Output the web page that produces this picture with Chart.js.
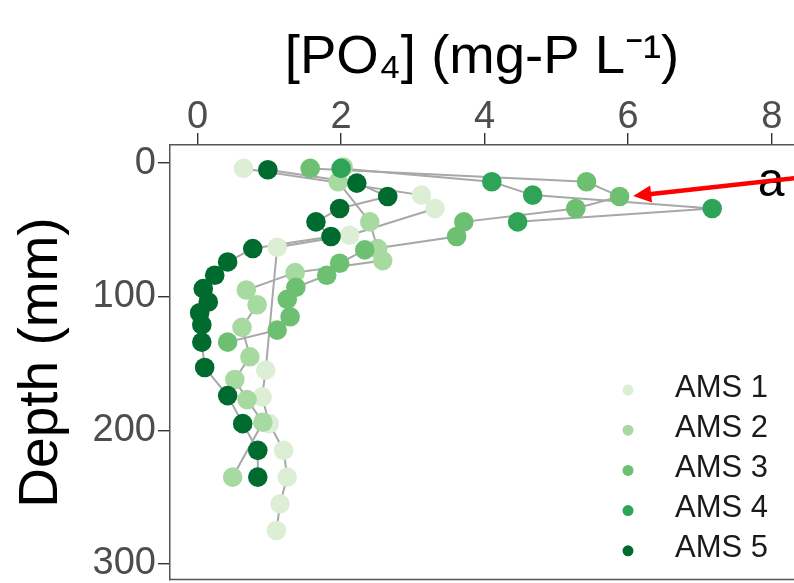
<!DOCTYPE html>
<html><head><meta charset="utf-8">
<script src="https://cdn.jsdelivr.net/npm/chart.js@4.4.0/dist/chart.umd.min.js"></script>
<style>html,body{margin:0;padding:0;background:#fff;} canvas{display:block;}</style>
</head><body>
<canvas id="c" width="794" height="583"></canvas>
<script>
// ---- data ----
const seriesNames = ['AMS 1', 'AMS 2', 'AMS 3', 'AMS 4', 'AMS 5'];

const ams1Depth = [4, 24, 34, 54, 63, 155, 175, 195, 215, 235, 255, 275];
const ams1PO4   = [0.64, 3.12, 3.31, 2.12, 1.11, 0.95, 0.9, 1.0, 1.2, 1.25, 1.15, 1.1];

const ams2Depth = [3, 14, 44, 64, 73, 82, 95, 106, 123, 145, 162, 177, 194, 235];
const ams2PO4   = [2.03, 1.96, 2.40, 2.51, 2.58, 1.36, 0.68, 0.83, 0.62, 0.73, 0.52, 0.69, 0.91, 0.49];

const ams3Depth = [4, 14, 25, 34, 44, 55, 65, 75, 84, 93, 102, 115, 125, 134];
const ams3PO4   = [1.57, 5.42, 5.88, 5.27, 3.71, 3.61, 2.33, 1.98, 1.80, 1.37, 1.25, 1.29, 1.11, 0.42];

const ams4Depth = [4, 14, 24, 34, 44];
const ams4PO4   = [2.0, 4.10, 4.67, 7.17, 4.46];

const ams5Depth = [5, 15, 25, 34, 44, 55, 64, 74, 84, 94, 104, 112, 121, 134, 153, 174, 195, 215, 235];
const ams5PO4   = [0.98, 2.22, 2.65, 1.98, 1.65, 1.86, 0.77, 0.42, 0.24, 0.08, 0.15, 0.03, 0.06, 0.06, 0.10, 0.42, 0.63, 0.84, 0.84];

const xTicks = [0, 2, 4, 6, 8];
const yTicks = [0, 100, 200, 300];
const xTitle = '[PO\u2084] (mg-P L\u207B\u00B9)';
const yTitle = 'Depth (mm)';
const panelLabel = 'a';
const panelLabelPos = [7.99, 25];      // data coords (PO4, depth) of label baseline
const arrowFrom = [8.45, 10.5];        // arrow tail (data coords)
const arrowTo = [6.07, 24.7];          // arrow tip (data coords)

// ---- styling ----
const FONT = '"Liberation Sans", Arial, Helvetica, sans-serif';
const colors = ['#dcefd5', '#a6daa0', '#6dc072', '#2fa356', '#006b2e'];
const lineColor = '#a8a8a8';
const frameColor = '#555555';

const depths = [ams1Depth, ams2Depth, ams3Depth, ams4Depth, ams5Depth];
const values = [ams1PO4, ams2PO4, ams3PO4, ams4PO4, ams5PO4];

function pts(i) { return depths[i].map((d, k) => ({x: values[i][k], y: d})); }

const datasets = [];
for (let i = 0; i < 5; i++) {
  datasets.push({
    label: seriesNames[i] + ' path', data: pts(i), showLine: true, fill: false,
    borderColor: lineColor, borderWidth: 2, pointRadius: 0, pointHoverRadius: 0,
    order: 20 + i
  });
}
for (let i = 0; i < 5; i++) {
  datasets.push({
    label: seriesNames[i], data: pts(i), showLine: false,
    backgroundColor: colors[i], borderWidth: 0, pointRadius: 9.8, pointHoverRadius: 9.8,
    order: 4 - i
  });
}

function noPad(ax) { ax.paddingTop = 0; ax.paddingBottom = 0; ax.paddingLeft = 0; ax.paddingRight = 0; }

const overlay = {
  id: 'overlay',
  afterDatasetsDraw(chart) {
    const {ctx, chartArea: ca, scales: {x, y}} = chart;
    ctx.save();
    ctx.strokeStyle = frameColor; ctx.lineWidth = 1.5;
    ctx.beginPath(); ctx.moveTo(ca.left, ca.bottom - 0.5); ctx.lineTo(ca.right, ca.bottom - 0.5); ctx.stroke();

    ctx.font = '31px ' + FONT; ctx.textAlign = 'left'; ctx.textBaseline = 'middle';
    for (let i = 0; i < 5; i++) {
      const cy = ca.top + 243 + i * 40.2;
      ctx.fillStyle = colors[i];
      ctx.beginPath(); ctx.arc(ca.left + 458, cy + 2, 5.5, 0, Math.PI * 2); ctx.fill();
      ctx.fillStyle = '#1a1a1a';
      ctx.fillText(seriesNames[i], ca.left + 505, cy);
    }

    ctx.fillStyle = '#000'; ctx.font = '48px ' + FONT; ctx.textAlign = 'center'; ctx.textBaseline = 'alphabetic';
    ctx.fillText(panelLabel, x.getPixelForValue(panelLabelPos[0]), y.getPixelForValue(panelLabelPos[1]));

    const x0 = x.getPixelForValue(arrowFrom[0]), y0 = y.getPixelForValue(arrowFrom[1]);
    const x1 = x.getPixelForValue(arrowTo[0]), y1 = y.getPixelForValue(arrowTo[1]);
    const ang = Math.atan2(y1 - y0, x1 - x0);
    const hl = 18, hw = 8.5;
    const bx = x1 - hl * Math.cos(ang), by = y1 - hl * Math.sin(ang);
    ctx.strokeStyle = '#ff0000'; ctx.lineWidth = 4.5; ctx.lineCap = 'butt';
    ctx.beginPath(); ctx.moveTo(x0, y0); ctx.lineTo(bx + 2 * Math.cos(ang), by + 2 * Math.sin(ang)); ctx.stroke();
    ctx.fillStyle = '#ff0000';
    ctx.beginPath(); ctx.moveTo(x1, y1);
    ctx.lineTo(bx + hw * Math.sin(ang), by - hw * Math.cos(ang));
    ctx.lineTo(bx - hw * Math.sin(ang), by + hw * Math.cos(ang));
    ctx.closePath(); ctx.fill();
    ctx.restore();
  }
};

new Chart(document.getElementById('c'), {
  type: 'scatter',
  data: {datasets},
  options: {
    responsive: false, animation: false, devicePixelRatio: 1,
    layout: {autoPadding: false, padding: {left: 0, right: 0, top: 0, bottom: 3}},
    plugins: {legend: {display: false}, tooltip: {enabled: false}},
    scales: {
      x: {
        type: 'linear', position: 'top', min: -0.383, max: 8.31,
        afterBuildTicks: (ax) => { ax.ticks = xTicks.map(v => ({value: v})); },
        afterFit: (ax) => { ax.height = 145; noPad(ax); },
        grid: {display: true, drawOnChartArea: false, drawTicks: true, tickLength: 12, color: '#333', lineWidth: 1.4},
        border: {display: true, color: frameColor, width: 1.5},
        ticks: {color: '#4d4d4d', font: {family: FONT, size: 38, lineHeight: 1}, padding: -4, maxRotation: 0},
        title: {display: true, text: xTitle, color: '#000', font: {family: FONT, size: 54.5, lineHeight: 1.2}, padding: {top: 25, bottom: 0}}
      },
      y: {
        type: 'linear', position: 'left', reverse: true, min: -13.5, max: 312,
        afterBuildTicks: (ax) => { ax.ticks = yTicks.map(v => ({value: v})); },
        afterFit: (ax) => { ax.width = 170; noPad(ax); },
        grid: {display: true, drawOnChartArea: false, drawTicks: true, tickLength: 12, color: '#333', lineWidth: 1.4},
        border: {display: true, color: frameColor, width: 1.5},
        ticks: {color: '#4d4d4d', font: {family: FONT, size: 38, lineHeight: 1}, padding: 2},
        title: {display: true, text: yTitle, color: '#000', font: {family: FONT, size: 55, lineHeight: 1.2}, padding: {top: 9, bottom: 0}}
      }
    }
  },
  plugins: [overlay]
});
</script>
</body></html>
